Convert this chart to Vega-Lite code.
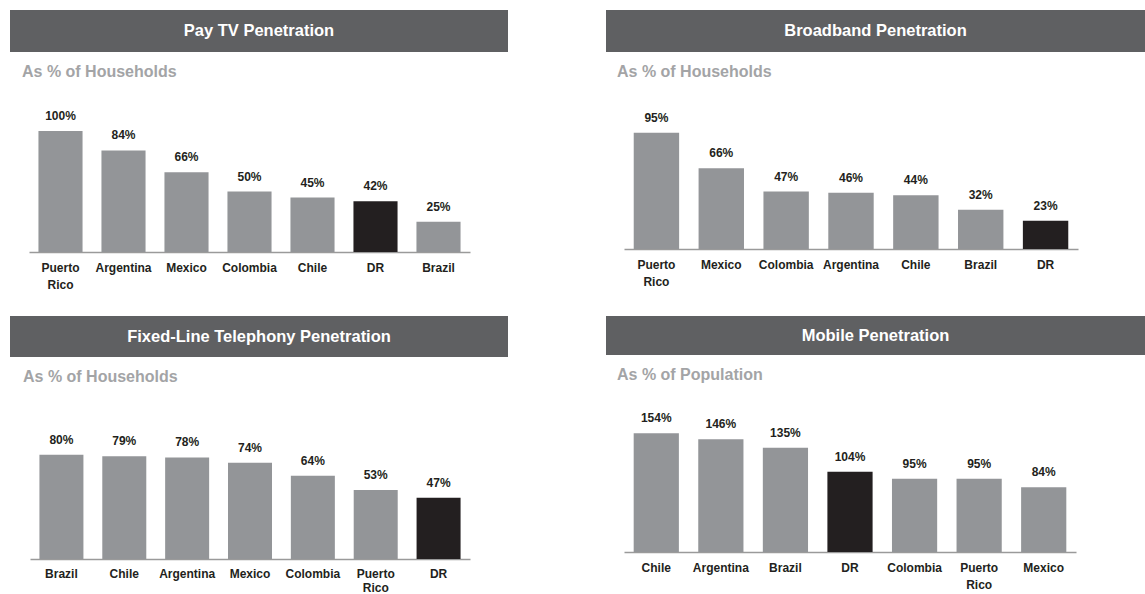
{
  "$schema": "https://vega.github.io/schema/vega-lite/v6.json",
  "background": "white",
  "padding": {"left": 10, "top": 10, "right": 0, "bottom": 0},
  "config": {
    "font": "Liberation Sans",
    "view": {"stroke": null},
    "axis": {"grid": false}
  },
  "datasets": {
    "paytv": [
      {"country": "Puerto Rico", "value": 100},
      {"country": "Argentina", "value": 84},
      {"country": "Mexico", "value": 66},
      {"country": "Colombia", "value": 50},
      {"country": "Chile", "value": 45},
      {"country": "DR", "value": 42},
      {"country": "Brazil", "value": 25}
    ],
    "broadband": [
      {"country": "Puerto Rico", "value": 95},
      {"country": "Mexico", "value": 66},
      {"country": "Colombia", "value": 47},
      {"country": "Argentina", "value": 46},
      {"country": "Chile", "value": 44},
      {"country": "Brazil", "value": 32},
      {"country": "DR", "value": 23}
    ],
    "fixed": [
      {"country": "Brazil", "value": 80},
      {"country": "Chile", "value": 79},
      {"country": "Argentina", "value": 78},
      {"country": "Mexico", "value": 74},
      {"country": "Colombia", "value": 64},
      {"country": "Puerto Rico", "value": 53},
      {"country": "DR", "value": 47}
    ],
    "mobile": [
      {"country": "Chile", "value": 154},
      {"country": "Argentina", "value": 146},
      {"country": "Brazil", "value": 135},
      {"country": "DR", "value": 104},
      {"country": "Colombia", "value": 95},
      {"country": "Puerto Rico", "value": 95},
      {"country": "Mexico", "value": 84}
    ]
  },
  "spacing": 26,
  "vconcat": [
    {
      "spacing": 98,
      "hconcat": [
        {
          "spacing": 12,
          "vconcat": [
            {
              "width": 498, "height": 42,
              "view": {"fill": "#5f6062", "stroke": null},
              "data": {"values": [{"t": "Pay TV Penetration"}]},
              "mark": {"type": "text", "color": "white", "fontSize": 16.5, "fontWeight": "bold"},
              "encoding": {"text": {"field": "t"}}
            },
            {
              "width": 498, "height": 162,
              "data": {"name": "paytv"},
              "transform": [{"calculate": "datum.value + '%'", "as": "label"}],
              "title": {"text": "As % of Households", "anchor": "start", "color": "#a3a4a6", "fontSize": 16, "fontWeight": "bold", "offset": 10, "dx": 12},
              "encoding": {
                "x": {"field": "country", "type": "nominal", "sort": null,
                  "scale": {"range": [19, 460], "paddingInner": 0.3, "paddingOuter": 0.15},
                  "axis": {"title": null, "labelAngle": 0, "ticks": false, "domainColor": "#9a9a9a", "domainWidth": 1.5, "labelColor": "#231f20", "labelFontSize": 12, "labelFontWeight": "bold", "labelPadding": 10, "labelLineHeight": 17, "labelBaseline": "top",
                    "labelExpr": "datum.label == 'Puerto Rico' ? ['Puerto', 'Rico'] : datum.label"}},
                "y": {"field": "value", "type": "quantitative", "scale": {"domain": [0, 134]}, "axis": null}
              },
              "layer": [
                {"mark": {"type": "bar"},
                 "encoding": {"color": {"condition": {"test": "datum.country === 'DR'", "value": "#231f20"}, "value": "#939598"}}},
                {"mark": {"type": "text", "baseline": "bottom", "dy": -8, "fontSize": 12, "fontWeight": "bold", "color": "#231f20"},
                 "encoding": {"text": {"field": "label"}}}
              ]
            }
          ]
        },
        {
          "spacing": 12,
          "vconcat": [
            {
              "width": 539, "height": 42,
              "view": {"fill": "#5f6062", "stroke": null},
              "data": {"values": [{"t": "Broadband Penetration"}]},
              "mark": {"type": "text", "color": "white", "fontSize": 16.5, "fontWeight": "bold"},
              "encoding": {"text": {"field": "t"}}
            },
            {
              "width": 539, "height": 159,
              "data": {"name": "broadband"},
              "transform": [{"calculate": "datum.value + '%'", "as": "label"}],
              "title": {"text": "As % of Households", "anchor": "start", "color": "#a3a4a6", "fontSize": 16, "fontWeight": "bold", "offset": 10, "dx": 11},
              "encoding": {
                "x": {"field": "country", "type": "nominal", "sort": null,
                  "scale": {"range": [18, 472], "paddingInner": 0.3, "paddingOuter": 0.15},
                  "axis": {"title": null, "labelAngle": 0, "ticks": false, "domainColor": "#9a9a9a", "domainWidth": 1.5, "labelColor": "#231f20", "labelFontSize": 12, "labelFontWeight": "bold", "labelPadding": 10, "labelLineHeight": 17, "labelBaseline": "top",
                    "labelExpr": "datum.label == 'Puerto Rico' ? ['Puerto', 'Rico'] : datum.label"}},
                "y": {"field": "value", "type": "quantitative", "scale": {"domain": [0, 130]}, "axis": null}
              },
              "layer": [
                {"mark": {"type": "bar"},
                 "encoding": {"color": {"condition": {"test": "datum.country === 'DR'", "value": "#231f20"}, "value": "#939598"}}},
                {"mark": {"type": "text", "baseline": "bottom", "dy": -8, "fontSize": 12, "fontWeight": "bold", "color": "#231f20"},
                 "encoding": {"text": {"field": "label"}}}
              ]
            }
          ]
        }
      ]
    },
    {
      "spacing": 98,
      "hconcat": [
        {
          "spacing": 12,
          "vconcat": [
            {
              "width": 498, "height": 41,
              "view": {"fill": "#5f6062", "stroke": null},
              "data": {"values": [{"t": "Fixed-Line Telephony Penetration"}]},
              "mark": {"type": "text", "color": "white", "fontSize": 16.5, "fontWeight": "bold"},
              "encoding": {"text": {"field": "t"}}
            },
            {
              "width": 498, "height": 164,
              "data": {"name": "fixed"},
              "transform": [{"calculate": "datum.value + '%'", "as": "label"}],
              "title": {"text": "As % of Households", "anchor": "start", "color": "#a3a4a6", "fontSize": 16, "fontWeight": "bold", "offset": 10, "dx": 13},
              "encoding": {
                "x": {"field": "country", "type": "nominal", "sort": null,
                  "scale": {"range": [20, 460], "paddingInner": 0.3, "paddingOuter": 0.15},
                  "axis": {"title": null, "labelAngle": 0, "ticks": false, "domainColor": "#9a9a9a", "domainWidth": 1.5, "labelColor": "#231f20", "labelFontSize": 12, "labelFontWeight": "bold", "labelPadding": 9, "labelLineHeight": 14, "labelBaseline": "top",
                    "labelExpr": "datum.label == 'Puerto Rico' ? ['Puerto', 'Rico'] : datum.label"}},
                "y": {"field": "value", "type": "quantitative", "scale": {"domain": [0, 126]}, "axis": null}
              },
              "layer": [
                {"mark": {"type": "bar"},
                 "encoding": {"color": {"condition": {"test": "datum.country === 'DR'", "value": "#231f20"}, "value": "#939598"}}},
                {"mark": {"type": "text", "baseline": "bottom", "dy": -8, "fontSize": 12, "fontWeight": "bold", "color": "#231f20"},
                 "encoding": {"text": {"field": "label"}}}
              ]
            }
          ]
        },
        {
          "spacing": 12,
          "vconcat": [
            {
              "width": 539, "height": 39,
              "view": {"fill": "#5f6062", "stroke": null},
              "data": {"values": [{"t": "Mobile Penetration"}]},
              "mark": {"type": "text", "color": "white", "fontSize": 16.5, "fontWeight": "bold"},
              "encoding": {"text": {"field": "t"}}
            },
            {
              "width": 539, "height": 159,
              "data": {"name": "mobile"},
              "transform": [{"calculate": "datum.value + '%'", "as": "label"}],
              "title": {"text": "As % of Population", "anchor": "start", "color": "#a3a4a6", "fontSize": 16, "fontWeight": "bold", "offset": 10, "dx": 11},
              "encoding": {
                "x": {"field": "country", "type": "nominal", "sort": null,
                  "scale": {"range": [18, 470], "paddingInner": 0.3, "paddingOuter": 0.15},
                  "axis": {"title": null, "labelAngle": 0, "ticks": false, "domainColor": "#9a9a9a", "domainWidth": 1.5, "labelColor": "#231f20", "labelFontSize": 12, "labelFontWeight": "bold", "labelPadding": 10, "labelLineHeight": 17, "labelBaseline": "top",
                    "labelExpr": "datum.label == 'Puerto Rico' ? ['Puerto', 'Rico'] : datum.label"}},
                "y": {"field": "value", "type": "quantitative", "scale": {"domain": [0, 206]}, "axis": null}
              },
              "layer": [
                {"mark": {"type": "bar"},
                 "encoding": {"color": {"condition": {"test": "datum.country === 'DR'", "value": "#231f20"}, "value": "#939598"}}},
                {"mark": {"type": "text", "baseline": "bottom", "dy": -8, "fontSize": 12, "fontWeight": "bold", "color": "#231f20"},
                 "encoding": {"text": {"field": "label"}}}
              ]
            }
          ]
        }
      ]
    }
  ]
}
